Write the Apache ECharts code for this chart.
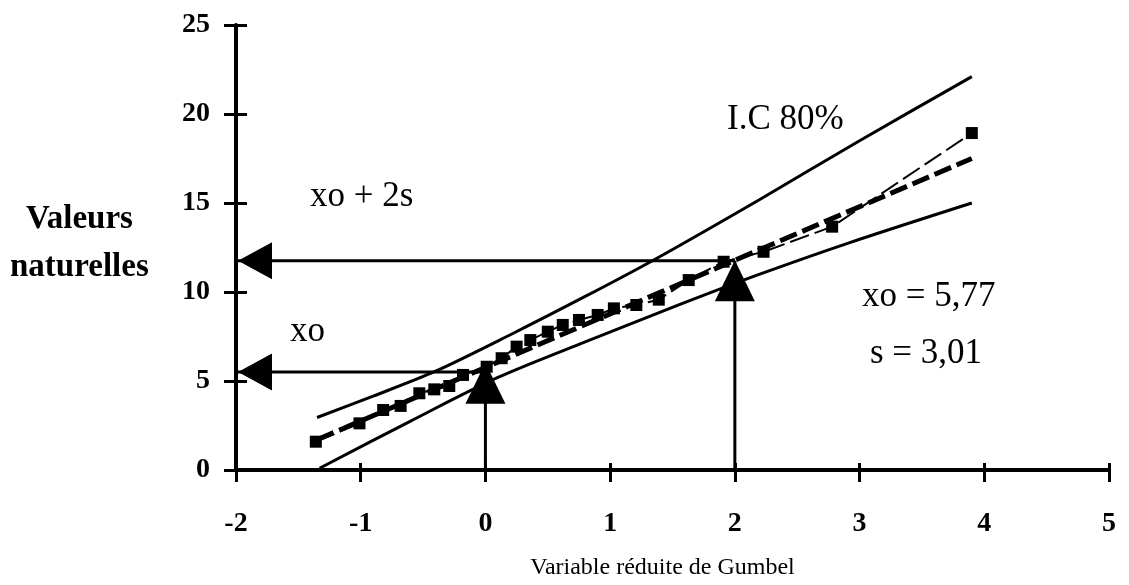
<!DOCTYPE html>
<html>
<head>
<meta charset="utf-8">
<script src="https://cdn.jsdelivr.net/npm/echarts@6/dist/echarts.min.js"></script>
<style>
  html, body { margin: 0; padding: 0; background: #fff; }
  #chart { width: 1129px; height: 585px; }
</style>
</head>
<body>
<div id="chart"></div>
<script>
// points de l'echantillon (variable reduite de Gumbel / valeurs naturelles)
var gumbelX = [-1.36, -1.01, -0.82, -0.68, -0.53, -0.41, -0.29, -0.18, 0.01, 0.13, 0.25, 0.36,
               0.50, 0.62, 0.75, 0.90, 1.03, 1.21, 1.39, 1.63, 1.91, 2.23, 2.78, 3.90];
var valeurs = [1.59, 2.62, 3.37, 3.60, 4.31, 4.53, 4.72, 5.34, 5.80, 6.28, 6.93, 7.30,
               7.77, 8.15, 8.43, 8.71, 9.08, 9.27, 9.57, 10.67, 11.70, 12.26, 13.67, 18.93];

// droite d'ajustement
var droiteX = [-1.35, 3.9];
var droiteY = [1.7, 17.5];

// intervalle de confiance 80%
var icSupX = [-1.35, -0.9, -0.4, 0.2, 0.8, 1.35, 2.2, 3.0, 3.9];
var icSupY = [2.95, 4.15, 5.55, 7.6, 9.75, 11.8, 15.2, 18.5, 22.1];
var icInfX = [-1.33, -0.6, 0.1, 0.8, 1.56, 2.2, 2.91, 3.9];
var icInfY = [0.1, 2.75, 5.2, 7.2, 9.3, 11.0, 12.75, 15.0];

// fleches : xo et xo + 2s
var xo = 5.5;
var xo2s = 11.75;
var xoTip = 6.0;

var serif = "'Liberation Serif', 'Times New Roman', serif";

function pairs(xs, ys) {
  var out = [];
  for (var i = 0; i < xs.length; i++) {
    out.push([xs[i], ys[i]]);
  }
  return out;
}

// fleche horizontale vers l'axe des y
function flecheH(x0, y) {
  return {
    type: 'line', silent: true, z: 5,
    lineStyle: { color: '#000', width: 3 },
    symbol: 'triangle',
    data: [
      { value: [x0, y], symbol: 'none' },
      { value: [-2, y], symbol: 'triangle', symbolSize: [37, 34], symbolRotate: 90, symbolOffset: [19, 0],
        itemStyle: { color: '#000' } }
    ]
  };
}

// fleche verticale depuis l'axe des x
function flecheV(x, yTip) {
  return {
    type: 'line', silent: true, z: 5,
    lineStyle: { color: '#000', width: 3 },
    symbol: 'triangle',
    data: [
      { value: [x, 0], symbol: 'none' },
      { value: [x, yTip], symbol: 'triangle', symbolSize: [40, 41], symbolOffset: [0, 20],
        itemStyle: { color: '#000' } }
    ]
  };
}

var chart = echarts.init(document.getElementById('chart'), null, { renderer: 'canvas' });

var option = {
  animation: false,
  backgroundColor: '#fff',
  grid: { left: 236, right: 20, top: 25, bottom: 115 },
  xAxis: [
    {
      type: 'value', min: -2, max: 5, interval: 1,
      name: 'Variable réduite de Gumbel',
      nameLocation: 'middle', nameGap: 86,
      nameTextStyle: { fontFamily: serif, fontSize: 24, color: '#000', padding: [0, 20, 0, 0] },
      axisLine: { onZero: false, lineStyle: { color: '#000', width: 4 } },
      axisTick: { length: 12, lineStyle: { color: '#000', width: 3 } },
      axisLabel: { margin: 40, color: '#000', fontFamily: serif, fontSize: 28, fontWeight: 'bold' },
      splitLine: { show: false }
    },
    {
      type: 'value', min: -2, max: 5, interval: 1, position: 'bottom',
      axisLine: { show: false, onZero: false },
      axisTick: { inside: true, length: 7, lineStyle: { color: '#000', width: 3 } },
      axisLabel: { show: false },
      splitLine: { show: false }
    }
  ],
  yAxis: [
    {
      type: 'value', min: 0, max: 25, interval: 5,
      axisLine: { onZero: false, lineStyle: { color: '#000', width: 4 } },
      axisTick: { length: 12, lineStyle: { color: '#000', width: 3 } },
      axisLabel: { margin: 26, color: '#000', fontFamily: serif, fontSize: 28, fontWeight: 'bold' },
      splitLine: { show: false }
    },
    {
      type: 'value', min: 0, max: 25, interval: 5, position: 'left',
      axisLine: { show: false, onZero: false },
      axisTick: { inside: true, length: 11, lineStyle: { color: '#000', width: 3 } },
      axisLabel: { show: false },
      splitLine: { show: false }
    }
  ],
  series: [
    {
      name: 'I.C sup', type: 'line', silent: true, smooth: 0.3,
      symbol: 'none',
      lineStyle: { color: '#000', width: 3 },
      data: pairs(icSupX, icSupY)
    },
    {
      name: 'I.C inf', type: 'line', silent: true, smooth: 0.3,
      symbol: 'none',
      lineStyle: { color: '#000', width: 3 },
      data: pairs(icInfX, icInfY)
    },
    {
      name: 'droite', type: 'line', silent: true,
      symbol: 'none',
      lineStyle: { color: '#000', width: 5, type: [18, 6] },
      data: pairs(droiteX, droiteY)
    },
    {
      name: 'echantillon', type: 'line', silent: true,
      symbol: 'rect', symbolSize: 12, showAllSymbol: true,
      itemStyle: { color: '#000' },
      lineStyle: { color: '#000', width: 2, type: [20, 6] },
      data: pairs(gumbelX, valeurs)
    },
    flecheH(2, xo2s),
    flecheH(0, xo),
    flecheV(0, xoTip),
    flecheV(2, xo2s)
  ],
  graphic: [
    { type: 'text', left: 26, top: 203, style: { text: 'Valeurs', font: 'bold 33px ' + serif, fill: '#000' } },
    { type: 'text', left: 10, top: 251, style: { text: 'naturelles', font: 'bold 33px ' + serif, fill: '#000' } },
    { type: 'text', left: 727, top: 102, style: { text: 'I.C 80%', font: '35px ' + serif, fill: '#000' } },
    { type: 'text', left: 310, top: 179, style: { text: 'xo + 2s', font: '35px ' + serif, fill: '#000' } },
    { type: 'text', left: 290, top: 314, style: { text: 'xo', font: '35px ' + serif, fill: '#000' } },
    { type: 'text', left: 862, top: 279, style: { text: 'xo = 5,77', font: '35px ' + serif, fill: '#000' } },
    { type: 'text', left: 870, top: 336, style: { text: 's = 3,01', font: '35px ' + serif, fill: '#000' } }
  ]
};

chart.setOption(option);
</script>
</body>
</html>
